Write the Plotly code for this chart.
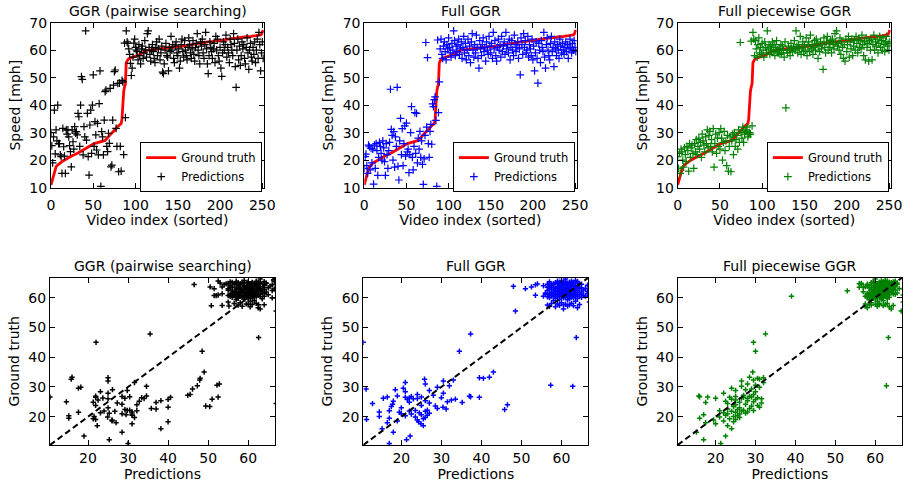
import plotly.graph_objects as go

W, H = 906, 486
FONT = "DejaVu Sans"

# ---------------- data ----------------
ground_truth = [
    11.0, 12.3, 13.5, 14.8, 16.0, 17.0, 17.6, 18.0, 18.3, 18.6,
    18.9, 19.1, 19.3, 19.5, 19.7, 19.9, 20.1, 20.3, 20.5, 20.7,
    20.9, 21.0, 21.2, 21.3, 21.5, 21.6, 21.8, 21.9, 22.0, 22.1,
    22.2, 22.4, 22.6, 22.8, 23.0, 23.2, 23.4, 23.6, 23.8, 24.0,
    24.2, 24.4, 24.6, 24.8, 24.9, 25.0, 25.2, 25.4, 25.6, 25.8,
    25.9, 26.0, 26.1, 26.2, 26.3, 26.4, 26.5, 26.5, 26.6, 26.6,
    26.7, 26.8, 26.9, 27.0, 27.2, 27.5, 27.9, 28.4, 28.8, 29.1,
    29.3, 29.6, 29.9, 30.2, 30.4, 30.6, 31.0, 31.5, 32.0, 32.3,
    32.6, 32.9, 33.1, 33.3, 35.0, 42.0, 45.0, 46.6, 47.8, 55.5,
    56.2, 56.6, 56.9, 57.1, 57.2, 57.3, 57.4, 57.5, 57.6, 57.6,
    57.7, 57.8, 57.9, 58.0, 58.1, 58.3, 58.5, 58.8, 59.0, 59.3,
    59.5, 59.6, 59.7, 59.8, 59.9, 60.0, 60.0, 60.1, 60.1, 60.2,
    60.2, 60.3, 60.3, 60.4, 60.4, 60.4, 60.5, 60.5, 60.5, 60.6,
    60.6, 60.6, 60.7, 60.7, 60.7, 60.8, 60.8, 60.8, 60.9, 60.9,
    60.9, 61.0, 61.0, 61.0, 61.1, 61.1, 61.1, 61.2, 61.2, 61.2,
    61.3, 61.3, 61.3, 61.4, 61.4, 61.5, 61.5, 61.6, 61.6, 61.7,
    61.7, 61.8, 61.8, 61.9, 61.9, 62.0, 62.0, 62.1, 62.1, 62.2,
    62.2, 62.3, 62.3, 62.4, 62.4, 62.5, 62.5, 62.6, 62.6, 62.7,
    62.7, 62.8, 62.8, 62.9, 62.9, 63.0, 63.0, 63.0, 63.1, 63.1,
    63.1, 63.2, 63.2, 63.3, 63.3, 63.3, 63.4, 63.4, 63.5, 63.5,
    63.5, 63.6, 63.6, 63.7, 63.7, 63.8, 63.8, 63.9, 63.9, 64.0,
    64.0, 64.1, 64.1, 64.2, 64.2, 64.3, 64.3, 64.4, 64.4, 64.4,
    64.5, 64.5, 64.5, 64.6, 64.6, 64.6, 64.7, 64.7, 64.7, 64.8,
    64.8, 64.8, 64.9, 64.9, 64.9, 65.0, 65.0, 65.0, 65.1, 65.1,
    65.2, 65.2, 65.3, 65.3, 65.4, 65.4, 65.5, 65.5, 65.6, 65.8,
    66.3, 67.3,
]

pred_pairwise = [
    30, 25.3, 19, 28.5, 38.2, 22.3, 31, 27, 40, 26,
    26, 21.9, 21.3, 15.2, 31.6, 24.9, 21.5, 15.2, 31, 29.5,
    31, 28.5, 25.3, 23.1, 17.6, 31, 26.7, 24, 32.2, 29.8,
    30.4, 29.2, 37, 35.8, 25, 40, 50.4, 49.4, 21.9, 32.2,
    28.5, 67, 27.3, 37, 21.3, 14.6, 32.8, 38.2, 22.5, 40,
    51, 25, 34, 29.2, 23.7, 33.4, 21.9, 40.6, 52.5, 10.5,
    30.4, 28.5, 21.9, 34.6, 44.9, 45.5, 25, 23.1, 29.8, 26.1,
    46.1, 17.6, 18.2, 34.6, 47.3, 52.2, 52.8, 31.6, 25, 47.9,
    15.8, 48, 25, 16, 49, 48.5, 22, 62.6, 35.5, 67,
    63, 62.5, 60.5, 58.5, 55.2, 50.8, 53.5, 57.5, 62.6, 64,
    61, 60, 59.5, 56.5, 62, 58, 55, 60.5, 61.5, 57,
    59, 63.5, 60, 57.5, 66, 67, 61, 58.5, 56, 60,
    62, 59.5, 57, 55.5, 61, 63, 58, 60.5, 64, 56.5,
    59, 61.5, 52, 51.5, 55, 60, 62.5, 58, 57.5, 52.5,
    61, 59.5, 65, 60, 62, 57, 55.5, 61.5, 63, 59,
    58, 60.5, 53.5, 56, 62, 64, 59.5, 57.5, 63.5, 60,
    58, 56.5, 61, 64.5, 62, 59, 57, 60.5, 63.5, 58.5,
    56, 61, 62.5, 66, 60, 58, 55, 63, 61.5, 64,
    59, 57, 62, 66.5, 60.5, 55, 51.5, 58, 63, 61,
    59.5, 57, 60.5, 62.5, 55.5, 65, 60, 64, 58, 56,
    61, 53.5, 50.5, 59, 63, 60, 62, 65.5, 57.5, 61,
    59, 55.5, 64, 62, 60, 58, 66, 62.5, 54, 46.5,
    60, 64, 56.5, 61.5, 54.5, 58, 63, 60.5, 62, 57,
    55, 61, 64.5, 59, 53, 60, 62.5, 57.5, 56, 61,
    58.5, 63, 55.5, 60, 64, 57, 66.5, 62, 52.5, 59,
    63, 57,
]

pred_full = [
    17, 21.3, 22.2, 18, 15.2, 25.5, 24.9, 16.5, 24.3, 19,
    24, 11.3, 25.5, 17, 26, 23.5, 14.5, 21, 26.5, 25,
    22.5, 20, 27, 24.5, 19.5, 14.5, 26, 22, 17, 23.5,
    26.5, 45.8, 31.2, 29, 20, 30.4, 17.5, 28.5, 25, 46.5,
    17.8, 12.8, 27, 35.2, 22, 31.5, 18, 26, 32.5, 21.5,
    33.5, 23, 24, 15.5, 22, 30, 39.5, 21, 16.5, 25,
    37.3, 22.5, 37, 19, 28, 24, 30.5, 21, 27, 18.5,
    11.2, 20.5, 29, 62.8, 32, 57.3, 26, 21, 30.5, 33,
    25.8, 40.5, 39.5, 42, 43, 34.5, 10.5, 63.7, 37.3, 48.5,
    60.5, 64, 58.5, 57, 61.5, 63, 59.5, 56.5, 62, 60.5,
    64.5, 61, 59, 57.5, 62.5, 60, 67, 63.5, 58, 61.5,
    59.5, 62, 64, 58.5, 60.5, 63, 57, 61, 65, 59,
    62.5, 56.5, 60, 64, 58, 61.5, 55.5, 63, 66, 60,
    57.5, 62, 59, 65.5, 61, 57, 53.5, 63.5, 60.5, 58,
    62, 64.5, 59.5, 61, 56, 63, 60, 58.5, 65, 61.5,
    59, 62.5, 57, 66.5, 60.5, 63.5, 58, 56, 61, 64,
    60, 62, 57.5, 65, 59.5, 61.5, 63, 58.5, 66.5, 60.5,
    62, 59, 64, 56.5, 61, 63.5, 60, 58, 65.5, 62,
    59.5, 61, 63, 57, 60.5, 51, 64.5, 62, 58.5, 66,
    61, 63.5, 59, 60, 65, 57.5, 62, 60.5, 58, 64,
    56.5, 61.5, 52.5, 59, 63, 57, 48, 62.5, 60, 55.5,
    63.5, 61, 59.5, 66.5, 57.5, 53.5, 62, 64.5, 60, 58,
    56.5, 62.5, 65, 59.5, 61, 54, 63, 60.5, 58, 62,
    60, 57, 64, 61.5, 59, 62.5, 60, 58.5, 61, 63,
    59.5, 62, 57, 60.5, 64, 61, 59, 62.5, 60, 63.5,
    61, 59.5,
]

pred_piecewise = [
    21.3, 17, 22.5, 15.2, 24, 23, 20, 17.5, 24.5, 22,
    19.5, 25, 23.5, 16, 26, 21, 24.5, 25.5, 22.5, 17,
    26, 23, 27.5, 22, 25, 28, 24, 26.5, 21, 29.5,
    27, 25.5, 23, 28.5, 26, 31, 24.5, 29, 30.5, 25,
    27.5, 23, 31.5, 17.5, 26, 29.5, 22.5, 28, 25, 30,
    24, 31.5, 28, 20, 26.5, 30.5, 23.5, 27, 18, 29,
    16, 25, 28.5, 15.8, 27, 29.5, 22, 30, 25, 27.5,
    29, 24, 31, 26.5, 62.8, 30, 28, 32, 26.5, 29.5,
    31, 30.5, 32, 28.5, 29.3, 30, 29.5, 63.3, 32.5, 66.5,
    64, 58, 63.5, 60.5, 57.5, 62, 64.5, 59, 61, 58.5,
    62.5, 60, 57.5, 63, 61, 59, 67, 60.5, 62, 58.5,
    61.5, 60, 63, 59.5, 62, 58, 61, 63.5, 60, 59,
    60.5, 58.5, 62, 59, 61.5, 60, 57.5, 63, 39, 60,
    59, 61.5, 60, 58, 62.5, 60.5, 59.5, 61, 63.5, 60,
    67, 61.5, 59, 62, 60.5, 65, 58.5, 61, 63, 59.5,
    62, 60, 64.5, 58, 61.5, 63, 59.5, 65.5, 60.5, 62,
    58.5, 61, 63.5, 60, 64, 62.5, 57, 61.5, 59.5, 63,
    60.5, 62, 53, 64.5, 61, 59, 63, 65, 60, 62.5,
    61, 63.5, 59, 64, 62, 60.5, 66, 63, 67, 61.5,
    62.5, 60, 64.5, 58.5, 63, 61, 57, 62, 56, 64,
    59.5, 62, 65, 57.5, 63, 60.5, 64, 58, 61.5, 63.5,
    60, 65, 62.5, 59, 64, 61, 63.5, 60.5, 65.5, 62,
    58, 63, 56.5, 64.5, 61, 62.5, 56, 63.5, 60, 64,
    56.5, 62, 65.5, 60, 63, 61.5, 64, 59, 62.5, 65,
    61, 63.5, 60, 64.5, 62, 59.5, 63, 65, 61.5, 62.5,
    60, 63,
]

titles = ["GGR (pairwise searching)", "Full GGR", "Full piecewise GGR"]
colors = ["#000000", "#0000ff", "#008000"]
predictions = [pred_pairwise, pred_full, pred_piecewise]

top_xlim = [0, 252]
top_ylim = [10, 70]
top_xticks = [0, 50, 100, 150, 200, 250]
top_yticks = [10, 20, 30, 40, 50, 60, 70]
bot_lim = [10.5, 66.7]
bot_ticks = [20, 30, 40, 50, 60]

video_index = list(range(len(ground_truth)))

# ---------------- layout geometry (pixels) ----------------
top_px = [(51, 264), (364.3, 576.7), (677.7, 890.7)]
bot_px = [(50, 275), (363.3, 588.3), (677.7, 902)]
top_y_px = (22.7, 187.7)
bot_y_px = (277.7, 445.0)


def xd(a, b):
    return [a / W, b / W]


def yd(t, b):
    return [1 - b / H, 1 - t / H]


fig = go.Figure()

axis_common = dict(
    showline=True, linecolor="black", linewidth=1, mirror="allticks",
    ticks="inside", ticklen=5, tickwidth=1, tickcolor="black",
    showgrid=False, zeroline=False, automargin=False,
    tickfont=dict(size=14, family=FONT, color="black"),
)

annotations = []
layout = dict(
    width=W, height=H, margin=dict(l=0, r=0, t=0, b=0),
    paper_bgcolor="white", plot_bgcolor="white",
    font=dict(family=FONT, size=14, color="black"),
    showlegend=True,
)

for i in range(3):
    pred = predictions[i]
    col = colors[i]
    # top panel
    n = 2 * i + 1
    xa = "x" if n == 1 else f"x{n}"
    ya = "y" if n == 1 else f"y{n}"
    lg = "legend" if i == 0 else f"legend{i + 1}"
    fig.add_trace(go.Scatter(
        x=video_index, y=ground_truth, mode="lines", name="Ground truth",
        line=dict(color="#ff0000", width=2.8), xaxis=xa, yaxis=ya, legend=lg,
    ))
    fig.add_trace(go.Scatter(
        x=video_index, y=pred, mode="markers", name="Predictions",
        marker=dict(symbol="cross-thin", size=5.5, line=dict(color=col, width=1.2)),
        xaxis=xa, yaxis=ya, legend=lg,
    ))
    layout[f"xaxis{'' if n == 1 else n}"] = dict(
        axis_common, domain=xd(*top_px[i]), anchor=ya, range=top_xlim,
        tickvals=top_xticks, ticklabelstandoff=4,
        title=dict(text="Video index (sorted)", font=dict(size=14), standoff=2),
    )
    layout[f"yaxis{'' if n == 1 else n}"] = dict(
        axis_common, domain=yd(*top_y_px), anchor=xa, range=top_ylim,
        tickvals=top_yticks,
        title=dict(text="Speed [mph]", font=dict(size=14), standoff=5),
    )
    layout[lg] = dict(
        x=top_px[i][1] / W - 0.002, y=1 - top_y_px[1] / H - 0.009,
        xanchor="right", yanchor="bottom",
        bordercolor="black", borderwidth=1, bgcolor="white",
        font=dict(size=11.5, family=FONT, color="black"),
        itemwidth=30, tracegroupgap=0,
    )
    annotations.append(dict(
        text=titles[i], xref="paper", yref="paper",
        x=(top_px[i][0] + top_px[i][1]) / 2 / W, y=1 - top_y_px[0] / H,
        xanchor="center", yanchor="bottom", yshift=2, showarrow=False,
        font=dict(size=14, family=FONT, color="black"),
    ))

    # bottom panel
    m = 2 * i + 2
    xb = f"x{m}"
    yb = f"y{m}"
    fig.add_trace(go.Scatter(
        x=pred, y=ground_truth, mode="markers", showlegend=False,
        marker=dict(symbol="cross-thin", size=3.8, line=dict(color=col, width=1.5)),
        xaxis=xb, yaxis=yb,
    ))
    fig.add_trace(go.Scatter(
        x=bot_lim, y=bot_lim, mode="lines", showlegend=False,
        line=dict(color="black", width=2, dash="6px,3.5px"),
        xaxis=xb, yaxis=yb,
    ))
    layout[f"xaxis{m}"] = dict(
        axis_common, domain=xd(*bot_px[i]), anchor=yb, range=bot_lim,
        tickvals=bot_ticks, ticklabelstandoff=0,
        title=dict(text="Predictions", font=dict(size=14), standoff=4),
    )
    layout[f"yaxis{m}"] = dict(
        axis_common, domain=yd(*bot_y_px), anchor=xb, range=bot_lim,
        tickvals=bot_ticks,
        title=dict(text="Ground truth", font=dict(size=14), standoff=5),
    )
    annotations.append(dict(
        text=titles[i], xref="paper", yref="paper",
        x=(bot_px[i][0] + bot_px[i][1]) / 2 / W, y=1 - bot_y_px[0] / H,
        xanchor="center", yanchor="bottom", yshift=2, showarrow=False,
        font=dict(size=14, family=FONT, color="black"),
    ))

layout["annotations"] = annotations
fig.update_layout(**layout)
fig.write_html(
    "out.html",
    config={"displayModeBar": False},
    post_script="document.body.style.margin='0px';document.body.style.padding='0px';"
                "document.body.style.overflow='hidden';",
)
